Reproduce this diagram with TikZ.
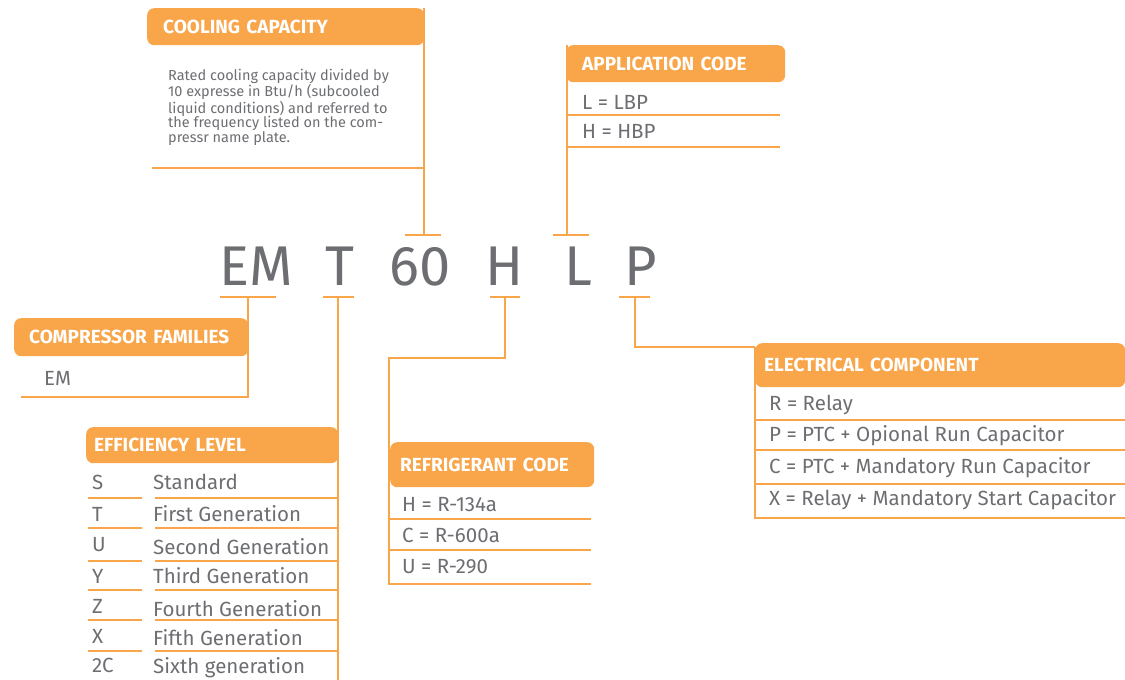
\documentclass[tikz,border=0pt]{standalone}
\usepackage{fontspec}
\setmainfont{Fira Sans}
\usepackage{tikz}
\usetikzlibrary{calc}
\definecolor{codeorange}{RGB}{249,166,75}
\definecolor{codegray}{RGB}{109,110,113}
\tikzset{
	link/.style={line width=2.2pt, color=codeorange},
	head/.style={fill=codeorange, rounded corners=7pt, anchor=north west, align=left, inner ysep=0pt, text=white, font=\bfseries\fontsize{19}{21}\selectfont},
	code/.style={anchor=base, text=codegray, inner sep=0pt, font=\fontsize{56}{60}\selectfont},
	entry/.style={anchor=west, inner sep=0pt, text=codegray, font=\fontsize{20.5}{22}\selectfont}
}

\begin{document}
\begin{tikzpicture}[x=1pt, y=-1pt]
			%%%%% START %%%%%
			\useasboundingbox (0,0) rectangle (1125,680);
			
			% the code letters
			\node[code] (cEM) at (256,285) {EM};
			\node[code] (cT) at (340,285) {T};
			\node[code] (c60) at (420,285) {60};
			\node[code] (cH) at (505,285) {H};
			\node[code] (cL) at (578,285) {L};
			\node[code] (cP) at (641,285) {P};
			
			% bars under and over the letters
			\coordinate (bEM) at (248,297);
			\coordinate (bT) at (338,297);
			\coordinate (bH) at (505,297);
			\coordinate (bP) at (635,297);
			\coordinate (b60) at (424,235);
			\coordinate (bL) at (567,235);
			\draw[link] (220,297) -- (276,297);
			\draw[link] (323,297) -- (354,297);
			\draw[link] (490,297) -- (520,297);
			\draw[link] (619,297) -- (650,297);
			\draw[link] (405,235) -- (441,235);
			\draw[link] (553,235) -- (589,235);
			
			%%%%% COOLING CAPACITY %%%%%
			\node[head, minimum width=277pt, minimum height=37pt, inner xsep=16pt, text width=245pt] (cool) at (147,8) {COOLING CAPACITY};
			\coordinate (coolEnd) at (152,168);
			\draw[link] (b60) -- (b60 |- cool.north);
			\draw[link] (424,168) -- (coolEnd);
			\node[anchor=north west, inner sep=0pt, text=codegray, align=left, font=\fontsize{14.5}{14.6}\selectfont] (coolText) at (168,69) {Rated cooling capacity divided by\\10 expresse in Btu/h (subcooled\\liquid conditions) and referred to\\the frequency listed on the com-\\pressr name plate.};
			
			%%%%% APPLICATION CODE %%%%%
			\node[head, minimum width=219pt, minimum height=37pt, inner xsep=16pt, text width=187pt] (app) at (566,45) {APPLICATION CODE};
			\draw[link] (bL) -- (bL |- app.north);
			\draw[link] (567,115) -- (780,115);
			\draw[link] (567,147) -- (780,147);
			\node[entry] (appL) at (582,102) {L = LBP};
			\node[entry] (appH) at (582,131) {H = HBP};
			
			%%%%% COMPRESSOR FAMILIES %%%%%
			\node[head, minimum width=234pt, minimum height=38pt, inner xsep=15pt, text width=204pt] (fam) at (14,318) {COMPRESSOR FAMILIES};
			\coordinate (famEnd) at (21,397);
			\draw[link] (bEM) |- (famEnd);
			\node[entry] (famEM) at (44,378) {EM};
			
			%%%%% EFFICIENCY LEVEL %%%%%
			\node[head, minimum width=252pt, minimum height=36pt, inner xsep=8pt, text width=236pt] (eff) at (86,427) {EFFICIENCY LEVEL};
			\coordinate (effEnd) at (338,680);
			\draw[link] (bT) -- (effEnd);
			\draw[link] (88,498) -- (142,498); \draw[link] (155,498) -- (338,498);
			\draw[link] (88,528) -- (142,528); \draw[link] (155,528) -- (338,528);
			\draw[link] (88,561) -- (142,561); \draw[link] (155,561) -- (338,561);
			\draw[link] (88,590) -- (142,590); \draw[link] (155,590) -- (338,590);
			\draw[link] (88,620) -- (142,620); \draw[link] (155,620) -- (338,620);
			\draw[link] (88,651) -- (142,651); \draw[link] (155,651) -- (338,651);
			\node[entry] (effS) at (92,482) {S};   \node[entry] (effSt) at (153,482) {Standard};
			\node[entry] (effT) at (92,514) {T};   \node[entry] (effTt) at (153,514) {First Generation};
			\node[entry] (effU) at (92,545) {U};   \node[entry] (effUt) at (153,547) {Second Generation};
			\node[entry] (effY) at (92,576) {Y};   \node[entry] (effYt) at (153,576) {Third Generation};
			\node[entry] (effZ) at (92,606) {Z};   \node[entry] (effZt) at (153,609) {Fourth Generation};
			\node[entry] (effX) at (92,636) {X};   \node[entry] (effXt) at (153,638) {Fifth Generation};
			\node[entry] (eff2C) at (92,665) {2C}; \node[entry] (eff2Ct) at (153,668) {Sixth generation};
			
			%%%%% REFRIGERANT CODE %%%%%
			\node[head, minimum width=204pt, minimum height=45pt, inner xsep=10pt, text width=184pt] (ref) at (390,442) {REFRIGERANT CODE};
			\coordinate (refEnd) at (591,584);
			\draw[link] (bH) -- (505,358) -| (389,584) -- (refEnd);
			\draw[link] (390,519) -- (591,519);
			\draw[link] (390,550) -- (591,550);
			\node[entry] (refH) at (402,505) {H = R-134a};
			\node[entry] (refC) at (402,535) {C = R-600a};
			\node[entry] (refU) at (402,567) {U = R-290};
			
			%%%%% ELECTRICAL COMPONENT %%%%%
			\node[head, minimum width=370pt, minimum height=44pt, inner xsep=9pt, text width=352pt] (elec) at (755,343) {ELECTRICAL COMPONENT};
			\coordinate (elecEnd) at (1125,518);
			\draw[link] (bP) |- (elec.west |- 0,347);
			\draw[link] (755,347) |- (elecEnd);
			\draw[link] (755,420) -- (1125,420);
			\draw[link] (755,450) -- (1125,450);
			\draw[link] (755,484) -- (1125,484);
			\node[entry] (elecR) at (769,405) {R = Relay};
			\node[entry] (elecP) at (769,436) {P = PTC + Opional Run Capacitor};
			\node[entry] (elecC) at (769,468) {C = PTC + Mandatory Run Capacitor};
			\node[entry] (elecX) at (769,500) {X = Relay + Mandatory Start Capacitor};
			
			%%%%% END %%%%%
		\end{tikzpicture}
\end{document}
